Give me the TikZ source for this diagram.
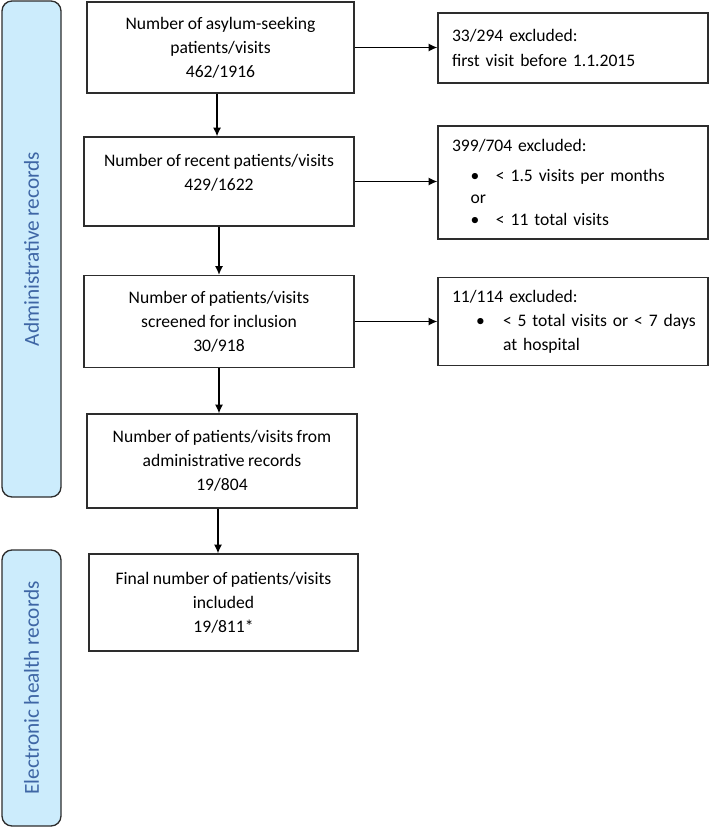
\documentclass[tikz,border=0pt]{standalone}
\usepackage{fontspec}
\setmainfont{Carlito}[WordSpace=0.85]
\usetikzlibrary{arrows.meta}
\definecolor{barfill}{RGB}{204,236,252}
\definecolor{bartext}{RGB}{62,102,165}
\definecolor{linec}{RGB}{45,45,45}
\begin{document}
\begin{tikzpicture}[x=0.75pt,y=-0.75pt,
  every node/.style={font=\fontsize{13.2}{18}\selectfont},
  flowbox/.style={draw=linec, line width=1pt, rectangle, align=center, inner sep=0pt},
  exclbox/.style={draw=linec, line width=1pt, rectangle, align=left, inner xsep=10.5pt, inner ysep=0pt, text width=181.5pt, minimum width=202.5pt},
  sidebar/.style={draw=linec, line width=1pt, fill=barfill, rounded corners=7.5pt, minimum width=44.25pt, inner sep=0pt},
  sidetext/.style={text=bartext, rotate=90, font=\fontsize{16}{18}\selectfont},
  arr/.style={draw=black, line width=1pt, -{Latex[length=6.5pt,width=6pt]}}
]
\useasboundingbox (0,0) rectangle (709,828);

% side bars
\node[sidebar, minimum height=372pt] (bar1) at (31.5,249) {};
\node[sidetext] (bar1t) at (bar1.center) {Administrative records};
\node[sidebar, minimum height=207pt] (bar2) at (31.5,688) {};
\node[sidetext] (bar2t) at (bar2.center) {Electronic health records};

% main flow
\node[flowbox, minimum width=200.25pt, minimum height=68.25pt] (b1) at (220.5,47.5)
  {Number of asylum-seeking\\patients/visits\\462/1916};
\node[flowbox, minimum width=202.5pt, minimum height=66.75pt] (b2) at (219,181.5)
  {Number of recent patients/visits\\429/1622\\[-4pt]~};
\node[flowbox, minimum width=202.5pt, minimum height=69pt] (b3) at (219,321.5)
  {Number of patients/visits\\screened for inclusion\\30/918};
\node[flowbox, minimum width=202.5pt, minimum height=70.5pt] (b4) at (222,461)
  {Number of patients/visits from\\administrative records\\19/804};
\node[flowbox, minimum width=201.75pt, minimum height=72.75pt] (b5) at (223.5,602.5)
  {Final number of patients/visits\\included\\19/811*};

% exclusion boxes
\node[exclbox, minimum height=52.5pt] (e1) at (573,48)
  {33/294 excluded:\\[1pt]first visit before 1.1.2015};
\node[exclbox, minimum height=84.75pt] (e2) at (573,182.5)
  {399/704 excluded:\\[5pt]
   \hspace*{14pt}\makebox[19pt][l]{•}< 1.5 visits per months\\[-1.5pt]
   \hspace*{14pt}or\\[-1.5pt]
   \hspace*{14pt}\makebox[19pt][l]{•}< 11 total visits};
\node[exclbox, minimum height=66pt] (e3) at (573,321.5)
  {11/114 excluded:\\
   \hspace*{18pt}\makebox[20.25pt][l]{•}\mbox{< 5 total visits or < 7 days}\\
   \hspace*{38.25pt}at hospital};

% vertical arrows
\draw[arr] ([xshift=-2.6pt]b1.south) -- ([xshift=-2.6pt]b1.south |- b2.north);
\draw[arr] (b2.south) -- (b2.south |- b3.north);
\draw[arr] (b3.south) -- (b3.south |- b4.north);
\draw[arr] ([xshift=-3pt]b4.south) -- ([xshift=-3pt]b4.south |- b5.north);

% horizontal arrows
\draw[arr] (b1.east) -- (b1.east -| e1.west);
\draw[arr] (b2.east) -- (b2.east -| e2.west);
\draw[arr] (b3.east) -- (b3.east -| e3.west);
\end{tikzpicture}
\end{document}
